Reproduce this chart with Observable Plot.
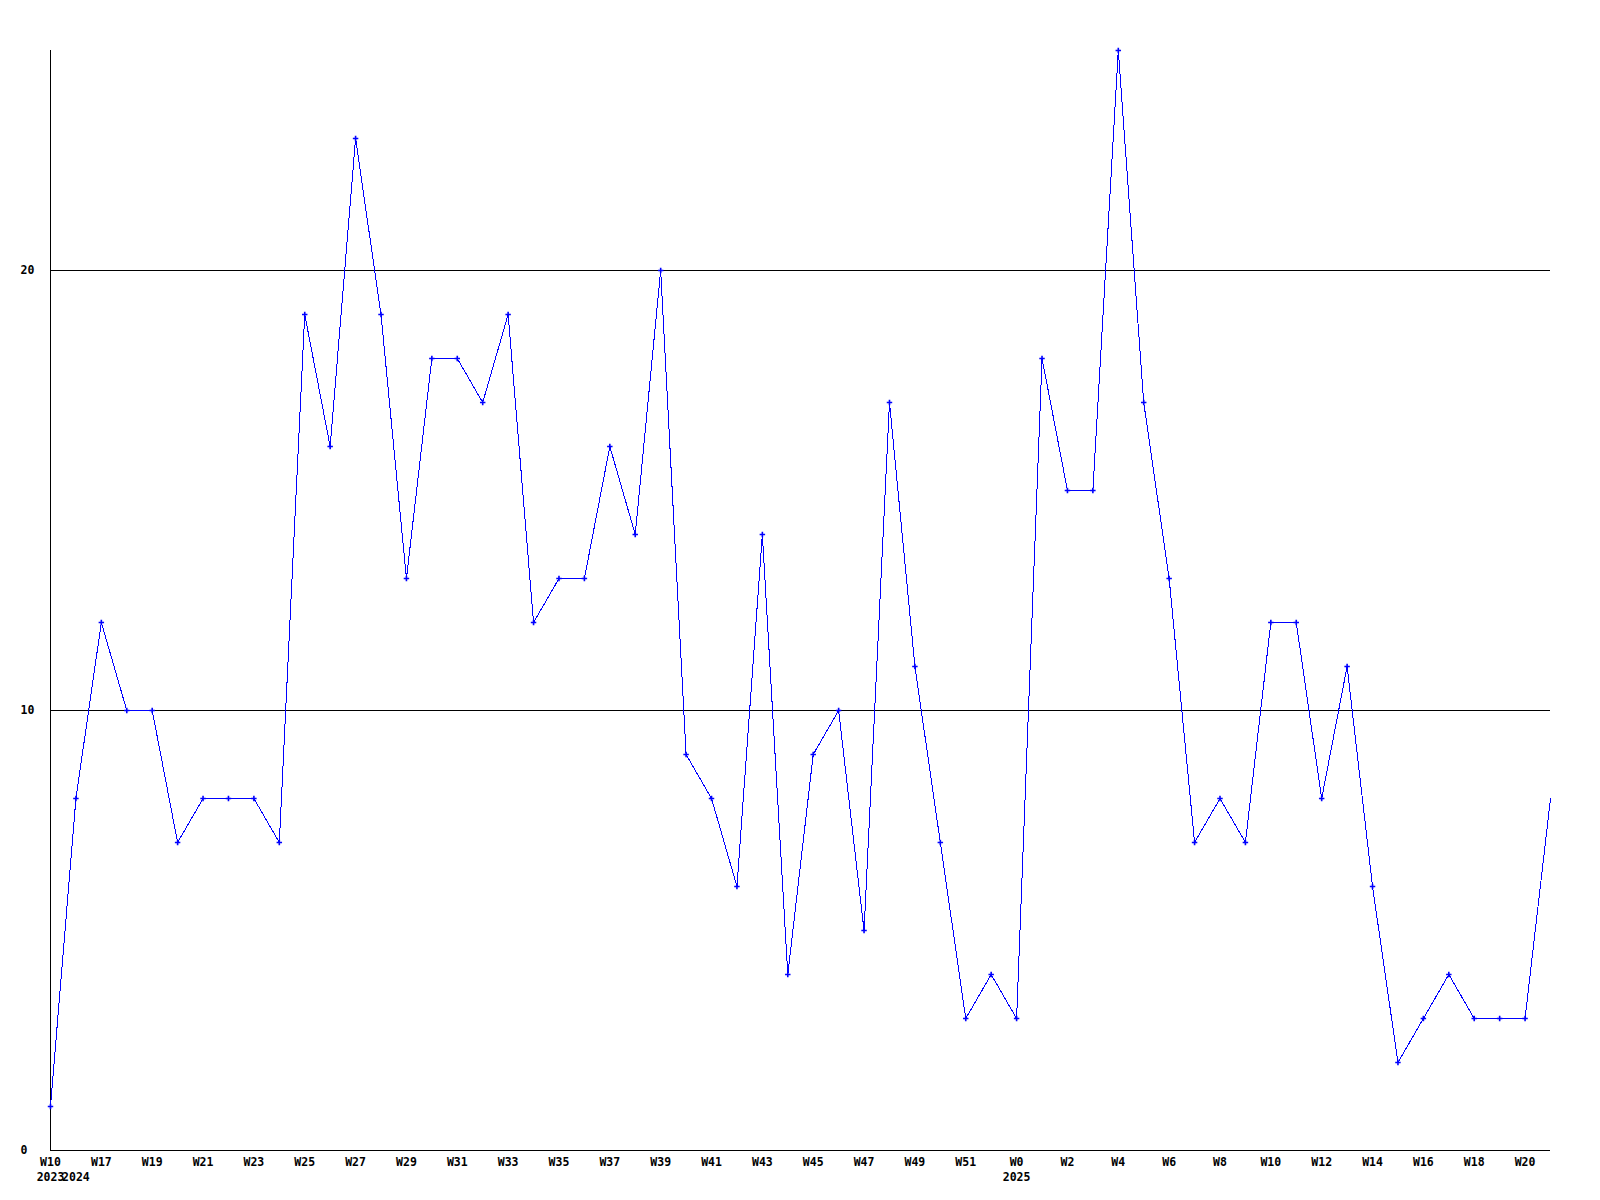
<!DOCTYPE html>
<html>
<head>
<meta charset="utf-8">
<script src="https://cdn.jsdelivr.net/npm/d3@7"></script>
<script src="https://cdn.jsdelivr.net/npm/@observablehq/plot@0.6"></script>
<style>
  html, body { margin: 0; padding: 0; background: #fff; }
  #chart svg { display: block; }
</style>
</head>
<body>
<div id="chart"></div>
<script>
// Week label of every point (one point per week)
const weeks = [
  "W10",
  "W16","W17","W18","W19","W20","W21","W22","W23","W24","W25","W26","W27","W28","W29","W30",
  "W31","W32","W33","W34","W35","W36","W37","W38","W39","W40","W41","W42","W43","W44","W45",
  "W46","W47","W48","W49","W50","W51","W52",
  "W0","W1","W2","W3","W4","W5","W6","W7","W8","W9","W10","W11","W12","W13","W14","W15",
  "W16","W17","W18","W19","W20","W21"
];
// Year shown under the first point of each year
const yearLabels = ["2023", "2024", "2025"];
const yearStartIndex = [0, 1, 38];
// Weekly values
const values = [
  1,
  8, 12, 10, 10, 7, 8, 8, 8, 7, 19, 16, 23, 19, 13, 18,
  18, 17, 19, 12, 13, 13, 16, 14, 20, 9, 8, 6, 14, 4, 9,
  10, 5, 17, 11, 7, 3, 4,
  3, 18, 15, 15, 25, 17, 13, 7, 8, 7, 12, 12, 8, 11, 6, 2,
  3, 4, 3, 3, 3, 8
];
const yTicks = [0, 10, 20];

const data = values.map((v, i) => ({i, week: weeks[i], value: v}));
const weekTicks = d3.range(0, weeks.length, 2);

const font = "bold 11.5px 'DejaVu Sans Mono', 'Liberation Mono', monospace";
const chart = Plot.plot({
  width: 1600,
  height: 1200,
  marginLeft: 50,
  marginRight: 50,
  marginTop: 50,
  marginBottom: 50,
  style: {font, background: "#fff", color: "#000"},
  x: {type: "linear", domain: [0, weeks.length - 1], label: null},
  y: {domain: [0, 25], label: null},
  marks: [
    Plot.ruleY([10, 20], {stroke: "#000", strokeWidth: 1}),
    Plot.ruleY([0], {stroke: "#000", strokeWidth: 1}),
    Plot.ruleX([0], {stroke: "#000", strokeWidth: 1}),
    Plot.axisY({ticks: yTicks, tickSize: 0, tickPadding: 0, textAnchor: "start", dx: -30, label: null, tickFormat: d => String(d)}),
    Plot.axisX({ticks: weekTicks, tickSize: 0, tickPadding: 7, label: null, tickFormat: i => weeks[i]}),
    Plot.axisX({ticks: yearStartIndex, tickSize: 0, tickPadding: 22, label: null, tickFormat: i => yearLabels[yearStartIndex.indexOf(i)]}),
    Plot.line(data, {x: "i", y: "value", stroke: "#0000ff", strokeWidth: 1, shapeRendering: "crispEdges"}),
    Plot.dot(data.filter(d => d.i < data.length - 1), {x: "i", y: "value", symbol: "plus", r: 1.9, stroke: "#0000ff", strokeWidth: 1.6})
  ]
});
document.getElementById("chart").append(chart);
</script>
</body>
</html>
